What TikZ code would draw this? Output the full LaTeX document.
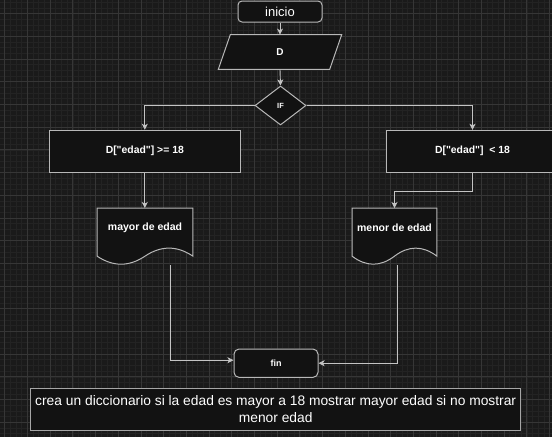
\documentclass[tikz,border=0pt]{standalone}
\usepackage{fontspec}
\setmainfont{Liberation Sans}
\usetikzlibrary{arrows.meta,calc,shapes.geometric}
\definecolor{bgcol}{HTML}{1A1A1A}
\definecolor{gridminor}{HTML}{232323}
\definecolor{gridmajor}{HTML}{363636}
\definecolor{nodefill}{HTML}{121212}
\definecolor{shapecol}{HTML}{B8B8B8}
\definecolor{conncol}{HTML}{C4C4C4}
\newcommand\mydocpath[1]{%
  \draw[shapeline] (#1.north west) -- (#1.north east) -- ($(#1.south east)+(0,-9)$)
    .. controls ($(#1.south east)!0.333!(#1.south)+(0,-19.7)$) and ($(#1.south east)!0.667!(#1.south)+(0,-19.7)$) .. ($(#1.south)+(0,-9)$)
    .. controls ($(#1.south)!0.333!(#1.south west)+(0,1.7)$) and ($(#1.south)!0.667!(#1.south west)+(0,1.7)$) .. ($(#1.south west)+(0,-9)$) -- cycle;}
\begin{document}
\begin{tikzpicture}[x=1pt,y=-1pt,
  shapeline/.style={draw=shapecol,fill=nodefill,line width=1pt},
  boxnode/.style={shapeline,rectangle,inner sep=0pt,text=white},
  roundnode/.style={boxnode,rounded corners=4pt},
  ghost/.style={rectangle,inner sep=0pt,draw=none},
  conn/.style={draw=conncol,line width=0.9pt,-{Stealth[length=6pt,width=6pt,inset=1.5pt]}},
  txt/.style={text=white,inner sep=0pt}]
\useasboundingbox (0,0) rectangle (552,437);
\fill[bgcol] (0,0) rectangle (552,437);
% grid
\foreach \i in {-1,...,97} {\draw[gridminor,line width=0.6pt] ({4.7+\i*5.675},0) -- ({4.7+\i*5.675},437);}
\foreach \i in {-3,...,75} {\draw[gridminor,line width=0.6pt] (0,{13.6+\i*5.675}) -- (552,{13.6+\i*5.675});}
\foreach \i in {0,...,24} {\draw[gridmajor,line width=0.8pt] ({4.7+\i*22.7},0) -- ({4.7+\i*22.7},437);}
\foreach \i in {-1,...,19} {\draw[gridmajor,line width=0.8pt] (0,{13.6+\i*22.7}) -- (552,{13.6+\i*22.7});}
% nodes
\node[roundnode,minimum width=84pt,minimum height=21pt,font=\fontsize{13}{15}\selectfont] (inicio) at (280,11.5) {inicio};
\node[ghost,minimum width=111pt,minimum height=34.3pt] (D) at (280,52) {};
\draw[shapeline] ($(D.north west)+(6,0)$) -- ($(D.north east)+(6,0)$) -- ($(D.south east)+(-6,0)$) -- ($(D.south west)+(-6,0)$) -- cycle;
\node[txt,font=\bfseries\fontsize{10}{12}\selectfont] (Dtxt) at (D.center) {D};
\node[shapeline,diamond,inner sep=0pt,minimum width=51pt,minimum height=39pt,text=white,font=\bfseries\fontsize{7.5}{9}\selectfont] (IF) at (280.5,105.5) {IF};
\node[boxnode,minimum width=191pt,minimum height=42pt,font=\bfseries\fontsize{10.4}{12}\selectfont] (boxL) at (144.8,151.3) {D[\textquotedbl edad\textquotedbl] >= 18};
\node[boxnode,minimum width=173pt,minimum height=42pt,font=\bfseries\fontsize{10.4}{12}\selectfont] (boxR) at (472.5,151.3) {D[\textquotedbl edad\textquotedbl]~~< 18};
\node[ghost,minimum width=95.4pt,minimum height=56.7pt] (mayor) at (145,236.6) {};
\mydocpath{mayor}
\node[txt,font=\bfseries\fontsize{10.5}{12}\selectfont] (mayortxt) at ($(mayor.north)+(0,20)$) {mayor de edad};
\node[ghost,minimum width=84.4pt,minimum height=56.7pt] (menor) at (394.5,236.6) {};
\mydocpath{menor}
\node[txt,font=\bfseries\fontsize{10.5}{12}\selectfont] (menortxt) at ($(menor.north)+(0,20)$) {menor de edad};
\node[roundnode,rounded corners=5pt,minimum width=84pt,minimum height=28.3pt,font=\bfseries\fontsize{9}{11}\selectfont] (fin) at (276,363.2) {fin};
\node[boxnode,draw=shapecol!90!black,minimum width=490pt,minimum height=42pt,align=center,font=\fontsize{13.8}{16.6}\selectfont] (note) at (275.7,409.3) {crea un diccionario si la edad es mayor a 18 mostrar mayor edad si no mostrar\\menor edad};
% connectors
\draw[conn] (inicio.south) -- (D.north);
\draw[conn] (D.south) -- (IF.north);
\draw[conn] (IF.west) -| (boxL.north);
\draw[conn] (IF.east) -| (boxR.north);
\draw[conn] (boxL.south) -- (boxL.south |- mayor.north);
\draw[conn] (boxR.south) -- ++(0,18.7) -| (menor.north);
\draw[conn] ($(mayor.south)+(25,0)$) |- ([yshift=3pt]fin.west);
\draw[conn] ($(menor.south)+(3,0)$) |- (fin.east);
\end{tikzpicture}
\end{document}
